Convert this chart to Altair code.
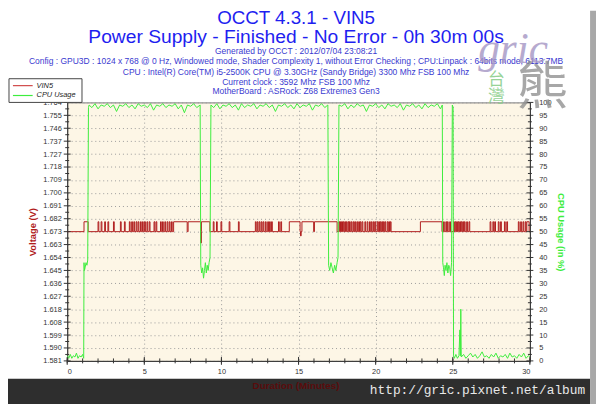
import altair as alt
import pandas as pd

# ---------------- text ----------------
title_lines = ["OCCT 4.3.1 - VIN5", "Power Supply - Finished - No Error - 0h 30m 00s"]
info_lines = [
    "Generated by OCCT : 2012/07/04 23:08:21",
    "Config : GPU3D : 1024 x 768 @ 0 Hz, Windowed mode, Shader Complexity 1, without Error Checking ; CPU:Linpack : 64bits mode, 6113.7MB",
    "CPU : Intel(R) Core(TM) i5-2500K CPU @ 3.30GHz (Sandy Bridge) 3300 Mhz FSB 100 Mhz",
    "Current clock : 3592 Mhz FSB 100 Mhz",
    "MotherBoard : ASRock: Z68 Extreme3 Gen3",
]
series_names = ["VIN5", "CPU Usage"]
x_title = "Duration (Minutes)"
y_left_title = "Voltage (V)"
y_right_title = "CPU Usage (in %)"
footer_text = "http://gric.pixnet.net/album"

# ---------------- ticks ----------------
x_tick_labels = [0, 5, 10, 15, 20, 25, 30]
x_minor_ticks = list(range(0, 31))
v_min, v_max, v_step = 1.581, 1.764, 0.00915
v_ticks = [round(v_min + k * v_step, 5) for k in range(21)]
v_minor = [round(v_min + (k + 0.5) * v_step, 5) for k in range(20)]
c_ticks = list(range(0, 101, 5))
c_minor = [k + 2.5 for k in range(0, 100, 5)]

# ---------------- VIN5 (volts) ----------------
volt_low = 1.6725
volt_high = 1.6795
volt_high_spans = [(1.09, 1.36), (6.90, 7.78), (7.84, 8.66), (8.70, 9.25),
                   (14.40, 15.10), (15.22, 15.98), (16.03, 17.50),
                   (22.90, 24.30), (29.80, 29.95)]
volt_blips = [2.00, 2.20, 2.43, 2.64, 3.00, 3.45, 3.71, 4.03, 4.18, 4.32, 4.47, 4.60,
              4.75, 4.88, 5.02, 5.17, 5.32, 5.63, 5.76, 6.05, 6.18, 6.33, 6.48, 6.62,
              6.76, 9.47, 9.68, 9.97, 10.50, 11.10, 12.20, 12.32, 12.45, 12.58, 12.70,
              12.85, 13.00, 13.12, 13.25, 13.70, 13.85, 17.62, 17.72, 17.80, 17.90,
              18.00, 18.10, 18.22, 18.30, 18.42, 18.55, 18.65, 18.78, 18.90, 19.00,
              19.12, 19.30, 19.45, 19.60, 19.72, 19.85, 19.95, 20.10, 20.20, 20.30,
              20.40, 20.50, 20.60, 20.75, 20.85, 20.95, 24.40, 24.55, 24.65, 24.80,
              25.05, 25.15, 25.25, 25.35, 25.45, 25.55, 25.65, 25.75, 25.90, 26.05,
              27.42, 27.60, 27.72, 27.95, 28.10, 28.35, 28.50, 29.25, 29.40, 29.55,
              29.70]
volt_dips = [(8.66, 1.6645), (15.13, 1.6695)]

# ---------------- CPU usage (%) ----------------
cpu_minutes = [
    0.00, 0.10, 0.20, 0.30, 0.40, 0.50, 0.60, 0.70, 0.80, 0.90, 1.00, 1.07,
    1.09, 1.12, 1.16, 1.22, 1.28, 1.33, 1.38,
    1.42, 1.60, 1.80, 2.00, 2.20, 2.40, 2.60, 2.80, 3.00, 3.20, 3.40, 3.60, 3.80,
    4.00, 4.20, 4.40, 4.60, 4.80, 5.00, 5.20, 5.40, 5.60, 5.80, 6.00, 6.20, 6.40,
    6.60, 6.80, 7.00, 7.20, 7.40, 7.60, 7.80, 8.00, 8.20, 8.40, 8.62,
    8.66, 8.72, 8.78, 8.84, 8.90, 8.96, 9.02, 9.08, 9.14, 9.20, 9.26,
    9.32, 9.50, 9.70, 9.90, 10.10, 10.30, 10.50, 10.70, 10.90, 11.10, 11.30, 11.50,
    11.70, 11.90, 12.10, 12.30, 12.50, 12.70, 12.90, 13.10, 13.30, 13.50, 13.70,
    13.90, 14.10, 14.30, 14.50, 14.70, 14.90, 15.10, 15.30, 15.50, 15.70, 15.90,
    16.10, 16.30, 16.50, 16.70, 16.90,
    16.95, 17.02, 17.10, 17.18, 17.26, 17.34, 17.42, 17.50, 17.56,
    17.62, 17.80, 18.00, 18.20, 18.40, 18.60, 18.80, 19.00, 19.20, 19.40, 19.60,
    19.80, 20.00, 20.20, 20.40, 20.60, 20.80, 21.00, 21.20, 21.40, 21.60, 21.80,
    22.00, 22.20, 22.40, 22.60, 22.80, 23.00, 23.20, 23.40, 23.60, 23.80, 24.00,
    24.20, 24.32,
    24.35, 24.40, 24.45, 24.50, 24.56, 24.62, 24.68, 24.74, 24.80, 24.86, 24.92,
    24.97, 25.02, 25.05,
    25.10, 25.20, 25.30, 25.40, 25.46, 25.49, 25.52, 25.55, 25.70, 25.85, 26.00,
    26.15, 26.30, 26.45, 26.60, 26.75, 26.90, 27.05, 27.20, 27.35, 27.50, 27.65,
    27.80, 27.95, 28.10, 28.25, 28.40, 28.55, 28.70, 28.85, 29.00, 29.15, 29.30,
    29.45, 29.60, 29.75, 29.90, 30.00,
]
cpu_percent = [
    2.0, 1.0, 2.5, 1.0, 2.0, 1.5, 3.0, 1.0, 2.0, 1.5, 2.5, 1.0,
    38, 35, 36, 38, 37, 39, 98,
    99, 98, 99.5, 97.5, 99, 98.5, 99.5, 98, 99, 96.5, 99, 98.5, 99.5,
    98, 99, 97.5, 99.5, 98.5, 99, 98, 99.5, 97, 99, 98.5, 99.5, 98,
    99, 98.5, 99.5, 97.5, 99, 96, 99, 98.5, 99.5, 98, 99,
    37, 34, 36, 32, 35, 38, 34, 37, 35, 38, 40,
    99, 98, 99.5, 97.5, 99, 98.5, 99.5, 98, 99, 97, 99.5, 98,
    99, 98.5, 99.5, 97.5, 99, 98.5, 99.5, 98, 99, 96.5, 99,
    98.5, 99.5, 98, 99, 97.5, 99.5, 98, 99, 98.5, 99.5, 97,
    99, 98.5, 99.5, 98, 99,
    37, 35, 38, 36, 34, 37, 35, 38, 40,
    99, 98.5, 99.5, 97.5, 99, 98, 99.5, 98.5, 99, 96.5, 99,
    98.5, 99.5, 98, 99, 97.5, 99.5, 98.5, 99, 98, 99.5, 97,
    99, 98.5, 99.5, 98, 99, 97.5, 99.5, 98, 99, 98.5, 99.5,
    97.5, 99,
    38, 36, 33, 37, 35, 38, 34, 37, 36, 33, 38,
    99, 98, 2,
    1.0, 2.5, 1.0, 2.0, 12, 2.0, 20, 1.5, 2.5, 1.0, 2.0,
    3.0, 1.5, 2.5, 1.0, 2.0, 3.5, 1.5, 2.0, 1.0, 2.5, 1.5,
    3.0, 1.0, 2.0, 1.5, 2.5, 1.0, 3.0, 1.5, 2.0, 1.0, 2.5,
    1.5, 3.0, 1.0, 2.0, 1.5,
]

# ---------------- build tables ----------------
intervals = [(s, e, volt_high) for s, e in volt_high_spans]
intervals += [(s, s + 0.05, volt_high) for s in volt_blips]
intervals += [(s, s + 0.04, v) for s, v in volt_dips]
intervals.sort(key=lambda r: r[0])
vt, vv = [0.0], [volt_low]
for s, e, lvl in intervals:
    vt += [s, e]
    vv += [lvl, volt_low]
vt.append(30.0)
vv.append(volt_low)
volt_df = pd.DataFrame({"t": vt, "v": vv, "i": range(len(vt)), "series": series_names[0]})
cpu_df = pd.DataFrame({"t": cpu_minutes, "v": cpu_percent, "i": range(len(cpu_minutes)),
                       "series": series_names[1]})

RED = "#b01c1c"
GREEN = "#3ded3d"
TICK = "#333333"
W, H = 469, 262

x_scale = alt.Scale(domain=[0, 30], nice=False, zero=False)
v_scale = alt.Scale(domain=[v_min, v_max], nice=False, zero=False)
c_scale = alt.Scale(domain=[0, 100], nice=False, zero=True)
color_scale = alt.Scale(domain=series_names, range=[RED, GREEN])

x_axis = alt.Axis(values=x_tick_labels, format="d", grid=True, title=None, ticks=False,
                  labelPadding=7)
v_axis = alt.Axis(values=v_ticks, format=".3f", grid=True, ticks=False, labelPadding=6,
                  title=y_left_title, titleColor=RED, titleFontWeight="bold",
                  titleFontSize=9.5, titlePadding=5)
c_axis = alt.Axis(values=c_ticks, format="d", grid=False, ticks=False, orient="right",
                  labelPadding=9, title=y_right_title, titleColor=GREEN,
                  titleFontWeight="bold", titleFontSize=9.5, titlePadding=4)
X = alt.X("t:Q", scale=x_scale, axis=x_axis)
YV = alt.Y("v:Q", scale=v_scale, axis=v_axis)
YC = alt.Y("v:Q", scale=c_scale, axis=c_axis)


def rule_ticks(values, y_enc, x0, x1):
    return alt.Chart(pd.DataFrame({"v": values})).mark_rule(color=TICK).encode(
        y=y_enc, x=alt.value(x0), x2=alt.value(x1))


volt_line = alt.Chart(volt_df).mark_line(interpolate="step-after", strokeWidth=1).encode(
    x=X, y=YV,
    color=alt.Color("series:N", scale=color_scale, legend=None),
    order="i:Q",
)
left_group = alt.layer(volt_line,
                       rule_ticks(v_ticks, YV, -3.5, 3.5),
                       rule_ticks(v_minor, YV, -2, 2))

cpu_line = alt.Chart(cpu_df).mark_line(strokeWidth=1).encode(
    x=X, y=YC,
    color=alt.Color("series:N", scale=color_scale, legend=None),
    order="i:Q",
)
right_group = alt.layer(cpu_line,
                        rule_ticks(c_ticks, YC, W - 3.5, W + 3.5),
                        rule_ticks(c_minor, YC, W - 2, W + 2))

x_major = alt.Chart(pd.DataFrame({"t": x_tick_labels})).mark_rule(color=TICK).encode(
    x=X, y=alt.value(H - 4), y2=alt.value(H + 4))
x_minor_r = alt.Chart(pd.DataFrame({"t": x_minor_ticks})).mark_rule(color=TICK).encode(
    x=X, y=alt.value(H - 2.5), y2=alt.value(H + 2.5))


def txt(s, x, y, **kw):
    return alt.Chart(pd.DataFrame({"s": [s]})).mark_text(**kw).encode(
        text="s:N", x=alt.value(x), y=alt.value(y))


def box(x, x2, y, y2, **kw):
    return alt.Chart(pd.DataFrame({"a": [0]})).mark_rect(**kw).encode(
        x=alt.value(x), x2=alt.value(x2), y=alt.value(y), y2=alt.value(y2))


def seg(x, x2, y, color, width=1.2):
    return alt.Chart(pd.DataFrame({"a": [0]})).mark_rule(color=color, strokeWidth=width).encode(
        x=alt.value(x), x2=alt.value(x2), y=alt.value(y))


CX = 232
header = [
    txt(title_lines[0], CX, -85.5, font="Liberation Sans", fontSize=19, color="#1e1ef0"),
    txt(title_lines[1], CX, -66, font="Liberation Sans", fontSize=19.5, color="#1e1ef0"),
]
for line, yy in zip(info_lines, [-52, -41.5, -31, -21, -11.5]):
    header.append(txt(line, CX, yy, font="Liberation Sans", fontSize=8.6, color="#3a3ad0"))

watermark = [
    txt("gric", 452, -53, font="Liberation Serif", fontSize=44, fontStyle="italic",
        color="#a596c4", opacity=0.8),
    txt("台", 435, -23, font="Noto Sans CJK TC", fontSize=17, color="#8ccf8c", opacity=0.9),
    txt("灣", 435, -5, font="Noto Sans CJK TC", fontSize=17, color="#8ccf8c", opacity=0.9),
    txt("熊", 482, -14, font="Noto Sans CJK TC", fontSize=52, color="#8a8a8a", opacity=0.75),
]

legend = [
    box(-59, 15, -24, 0, fill="white", stroke="#444444", strokeWidth=1),
    seg(-55, -35, -17, "#d04848"),
    seg(-55, -35, -7, GREEN),
    txt(series_names[0], -31, -17, font="Liberation Sans", fontSize=7.5, fontStyle="italic",
        align="left", color="#222222"),
    txt(series_names[1], -31, -7, font="Liberation Sans", fontSize=7.5, fontStyle="italic",
        align="left", color="#222222"),
]

footer = [
    box(-60, 530, 280, 310, fill="#2e2e2e"),
    box(530, 536, -93, 310, fill="#a8a8a8"),
    txt(x_title, CX, 287, font="Liberation Sans", fontSize=10, fontWeight="bold",
        color="#5a0c0c"),
    txt(footer_text, 525, 296, font="Liberation Mono", fontSize=13, align="right",
        baseline="alphabetic", color="#e8e8e8"),
]

chart = alt.layer(
    left_group, right_group, x_major, x_minor_r, *header, *watermark, *legend, *footer
).resolve_scale(y="independent").properties(
    width=W, height=H,
    autosize=alt.AutoSizeParams(type="none"),
    padding={"left": 60, "top": 93, "right": 67, "bottom": 41},
    background="white",
).configure_view(
    fill="#fdf6e6", stroke="#777777", strokeWidth=1
).configure_axis(
    labelFont="Liberation Sans", labelFontSize=7.5, labelColor="#333333",
    titleFont="Liberation Sans", domainColor="#333333",
    gridColor="#9a9a9a", gridDash=[1, 3], gridOpacity=1,
)

chart.save("out.html", embed_options={"renderer": "svg", "actions": False})
